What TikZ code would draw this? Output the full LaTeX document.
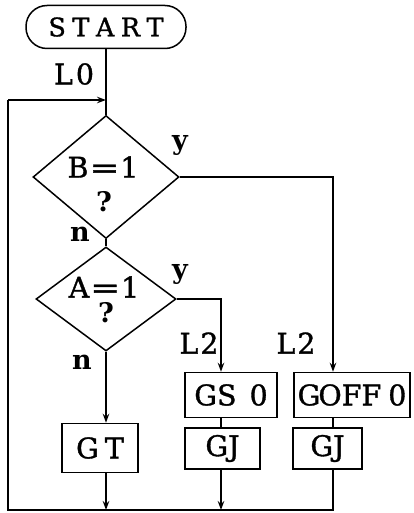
\documentclass[tikz,border=0pt]{standalone}
\usepackage{fontspec}
\setmainfont{DejaVu Serif}[FakeBold=1.2]
\newfontfamily\lblfont{DejaVu Serif Bold}
\usetikzlibrary{shapes.geometric,arrows.meta}
\begin{document}
\begin{tikzpicture}[x=1pt,y=-1pt, line width=1.5pt,
  txt/.style={font=\fontsize{28.5}{30}\selectfont, inner sep=0},
  lbl/.style={font=\fontsize{27}{30}\selectfont\lblfont, inner sep=0},
  box/.style={draw, rectangle, inner sep=0, font=\fontsize{28.5}{30}\selectfont},
  dia/.style={draw, diamond, inner sep=0},
  arr/.style={-{Stealth[length=9pt,width=6.5pt]}}]
\useasboundingbox (0,0) rectangle (414,513);
% nodes
\node[box, rounded corners=21pt, minimum width=160pt, minimum height=43pt,
      font=\fontsize{25.5}{28}\selectfont] (start) at (106,27)
      {S\kern6.5pt T\kern6.5pt A\kern6.5pt R\kern6.5pt T};
\node[dia, minimum width=146pt, minimum height=123pt] (dB) at (106,177) {};
\node[txt] (tB) at (103,167) {B\kern1pt\scalebox{1.25}[1]{=}\kern1pt 1};
\node[lbl] (qB) at (104,202) {?};
\node[dia, minimum width=140pt, minimum height=104pt] (dA) at (106,299) {};
\node[txt] (tA) at (104,287) {A\kern1pt\scalebox{1.25}[1]{=}\kern1pt 1};
\node[lbl] (qA) at (106,313) {?};
\node[box, minimum width=76pt, minimum height=49pt] (gt) at (100,448) {G\kern6pt T};
\node[box, minimum width=92pt, minimum height=45pt] (gs) at (231,395) {GS\kern13pt 0};
\node[box, minimum width=75pt, minimum height=41pt] (gj1) at (222.5,448.5) {GJ};
\node[box, minimum width=116pt, minimum height=45pt] (goff) at (352,395) {G\kern-2pt OFF\kern7pt 0};
\node[box, minimum width=69pt, minimum height=41pt] (gj2) at (327.5,448.5) {GJ};
% labels
\node[txt] (L0) at (74,74) {L\kern3pt 0};
\node[lbl] (yB) at (180,145) {y};
\node[lbl] (nB) at (80,234) {n};
\node[lbl] (yA) at (180,274) {y};
\node[lbl] (nA) at (82,362) {n};
\node[txt] (L2a) at (199,343) {L\kern2pt 2};
\node[txt] (L2b) at (296,343) {L\kern2pt 2};
% coordinates
\coordinate (l0) at (106,100);
\coordinate (lt) at (8,100);
\coordinate (lb) at (8,510);
\coordinate (b1) at (106,510);
\coordinate (b2) at (221,510);
\coordinate (b3) at (333,510);
\coordinate (cA) at (221,299);
\coordinate (cB) at (333,177);
% connectors
\draw (start.south) -- (dB.north);
\draw[arr] (lt) -- (l0);
\draw (dB.south) -- (dA.north);
\draw[arr] (dA.south) -- (dA.south |- gt.north);
\draw[arr] (dA.east) -- (cA) -- (cA |- gs.north);
\draw[arr] (dB.east) -- (cB) -- (cB |- goff.north);
\draw (cA |- gs.south) -- (cA |- gj1.north);
\draw (cB |- goff.south) -- (cB |- gj2.north);
\draw[arr] (gt.south -| b1) -- (b1);
\draw[arr] (gj1.south -| b2) -- (b2);
\draw (gj2.south -| b3) -- (b3) -- (lb) -- (lt);
\end{tikzpicture}
\end{document}
